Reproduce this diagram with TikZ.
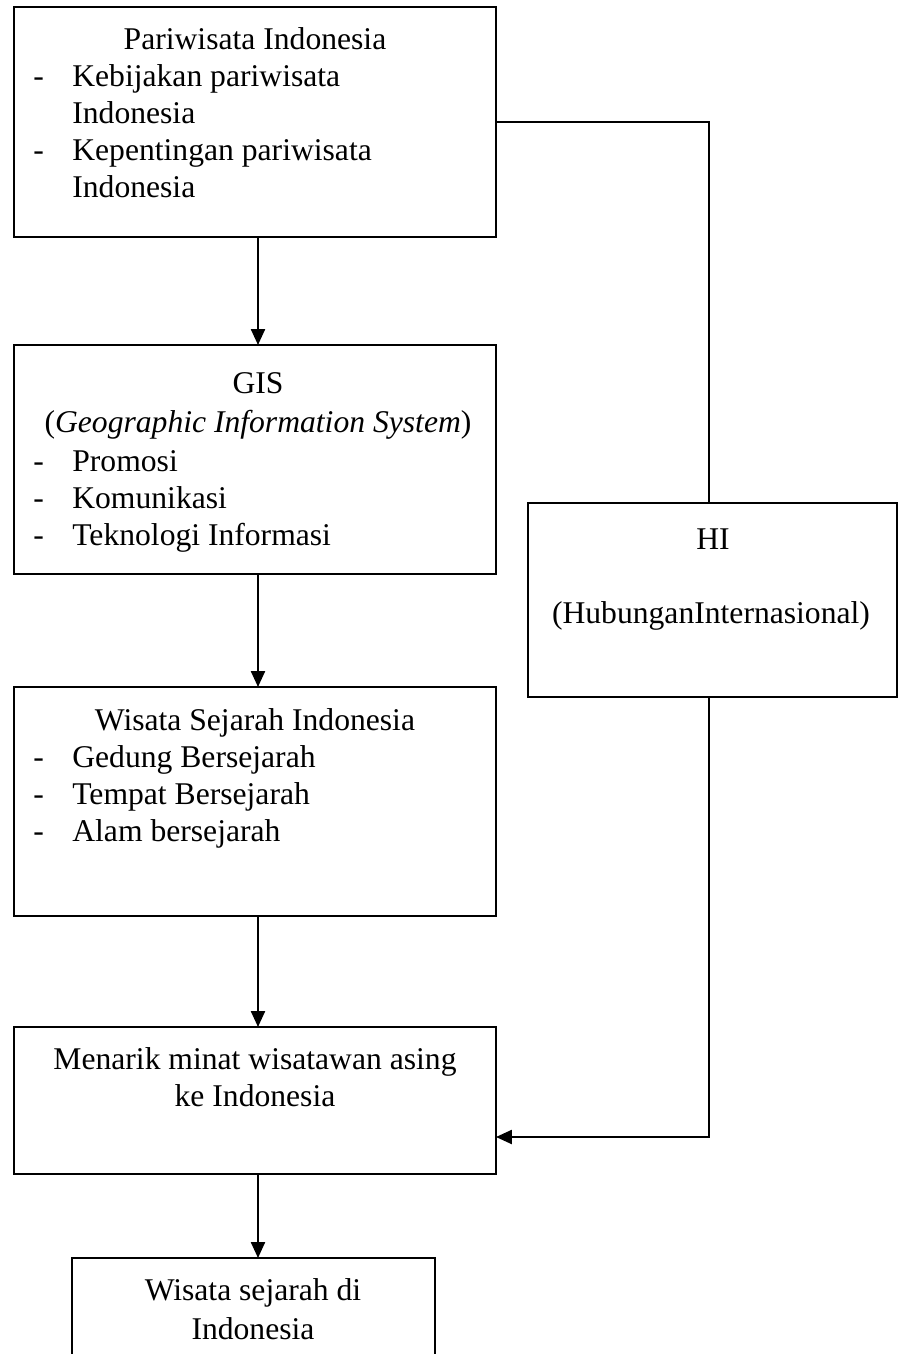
\documentclass[tikz,border=0pt]{standalone}
\usepackage{fontspec}
\setmainfont{Liberation Serif}
\usetikzlibrary{arrows.meta}
\begin{document}
\begin{tikzpicture}[x=0.02cm, y=-0.02cm,
    font=\fontsize{18}{21}\selectfont,
    box/.style={draw, line width=1.3pt, inner sep=0pt, outer sep=0pt, minimum width=9.64cm},
    arr/.style={line width=1.3pt, -{Triangle[length=0.32cm, width=0.28cm]}},
    txt/.style={anchor=base, inner sep=0pt},
    item/.style={anchor=base west, inner sep=0pt}]
    \path[use as bounding box, clip] (0, 0) rectangle (900, 1354);
    % boxes
    \node [box, minimum height=4.6cm] (wisata) at (255, 122) {};
    \node [box, minimum height=4.58cm] (gis) at (255, 459.5) {};
    \node [box, minimum height=4.58cm] (sejarah) at (255, 801.5) {};
    \node [box, minimum height=2.94cm] (minat) at (255, 1100.5) {};
    \node [box, minimum width=7.26cm, minimum height=3.4cm] (hasil) at (253.5, 1343) {};
    \node [box, minimum width=7.38cm, minimum height=3.88cm] (hi) at (712.5, 600) {};
    % pariwisata indonesia
    \node [txt] (t1) at (255, 50) {Pariwisata Indonesia};
    \node [item] (d1) at (33, 87) {-};
    \node [item] (t2) at (72, 87) {Kebijakan pariwisata};
    \node [item] (t3) at (72, 124) {Indonesia};
    \node [item] (d2) at (33, 161) {-};
    \node [item] (t4) at (72, 161) {Kepentingan pariwisata};
    \node [item] (t5) at (72, 198) {Indonesia};
    % gis
    \node [txt] (g1) at (258, 394) {GIS};
    \node [txt] (g2) at (258, 432) {(\textit{Geographic Information System})};
    \node [item] (gd1) at (33, 471) {-};
    \node [item] (g3) at (72, 471) {Promosi};
    \node [item] (gd2) at (33, 508) {-};
    \node [item] (g4) at (72, 508) {Komunikasi};
    \node [item] (gd3) at (33, 545) {-};
    \node [item] (g5) at (72, 545) {Teknologi Informasi};
    % wisata sejarah
    \node [txt] (s1) at (255, 730) {Wisata Sejarah Indonesia};
    \node [item] (sd1) at (33, 767) {-};
    \node [item] (s2) at (72, 767) {Gedung Bersejarah};
    \node [item] (sd2) at (33, 804) {-};
    \node [item] (s3) at (72, 804) {Tempat Bersejarah};
    \node [item] (sd3) at (33, 841) {-};
    \node [item] (s4) at (72, 841) {Alam bersejarah};
    % menarik minat
    \node [txt] (m1) at (255, 1069) {Menarik minat wisatawan asing};
    \node [txt] (m2) at (255, 1106) {ke Indonesia};
    % hasil
    \node [txt] (h1) at (253, 1300) {Wisata sejarah di};
    \node [txt] (h2) at (253, 1339) {Indonesia};
    % hi
    \node [txt] (i1) at (713, 549) {HI};
    \node [txt] (i2) at (711, 623) {(HubunganInternasional)};
    % connectors
    \draw [arr] (wisata.south -| 258, 0) -- (gis.north -| 258, 0);
    \draw [arr] (gis.south -| 258, 0) -- (sejarah.north -| 258, 0);
    \draw [arr] (sejarah.south -| 258, 0) -- (minat.north -| 258, 0);
    \draw [arr] (minat.south -| 258, 0) -- (hasil.north -| 258, 0);
    \draw [line width=1.3pt] (wisata.east) -| (hi.north -| 709, 0);
    \draw [arr] (hi.south -| 709, 0) |- ([yshift=-0.73cm]minat.east);
\end{tikzpicture}
\end{document}
